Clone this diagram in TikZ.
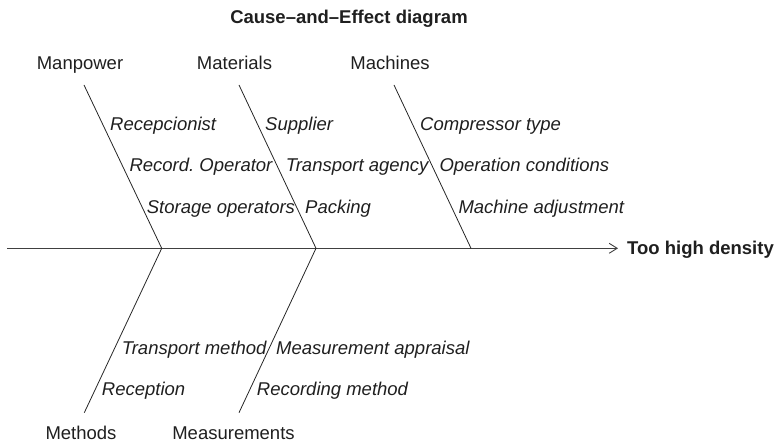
\documentclass[tikz,border=0pt]{standalone}
\usepackage{fontspec}
\setmainfont{Liberation Sans}
\usetikzlibrary{arrows.meta}
\begin{document}
\begin{tikzpicture}[x=1pt,y=-1pt,
  txt/.style={inner sep=0pt, anchor=base, font=\fontsize{18.5}{20}\selectfont, text=black!88},
  cat/.style={txt},
  cause/.style={txt, anchor=base west, font=\fontsize{18.5}{20}\selectfont\itshape},
  bold/.style={txt, font=\fontsize{18.5}{20}\selectfont\bfseries},
  bone/.style={line width=0.8pt, draw=black!85},
  spine/.style={line width=0.9pt, draw=black!75, -{Straight Barb[length=8pt,width=10pt,line width=0.9pt]}}]
\useasboundingbox (0,0) rectangle (777,443);
% title
\node[bold] (title) at (349,24) {Cause\textendash and\textendash Effect diagram};
% category labels
\node[cat] (manpower) at (80,70) {Manpower};
\node[cat] (materials) at (234.5,70) {Materials};
\node[cat] (machines) at (390,70) {Machines};
\node[cat] (methods) at (81,439.5) {Methods};
\node[cat] (measurements) at (233.5,439.5) {Measurements};
% effect
\node[bold, anchor=base west] (effect) at (627,255) {Too high density};
% bone coordinates
\coordinate (s0) at (7,248.3);
\coordinate (j1) at (161.7,248.3);
\coordinate (j2) at (316,248.3);
\coordinate (j3) at (471,248.3);
\coordinate (tip) at (618,248.3);
\coordinate (t1) at (84,85);
\coordinate (t2) at (239,85);
\coordinate (t3) at (394,85);
\coordinate (b1) at (84.3,412.7);
\coordinate (b2) at (239,412.7);
% spine and bones
\draw[spine] (s0) -- (tip);
\draw[bone] (t1) -- (j1);
\draw[bone] (t2) -- (j2);
\draw[bone] (t3) -- (j3);
\draw[bone] (j1) -- (b1);
\draw[bone] (j2) -- (b2);
% causes
\node[cause] (c11) at (110,131) {Recepcionist};
\node[cause] (c12) at (129.3,172) {Record.\ Operator};
\node[cause] (c13) at (146.7,213.3) {Storage operators};
\node[cause] (c21) at (265,131) {Supplier};
\node[cause] (c22) at (285.7,172) {Transport agency};
\node[cause] (c23) at (305,213.3) {Packing};
\node[cause] (c31) at (420,131) {Compressor type};
\node[cause] (c32) at (439.3,172) {Operation conditions};
\node[cause] (c33) at (458.3,213.3) {Machine adjustment};
\node[cause] (c41) at (121.7,354.5) {Transport method};
\node[cause] (c42) at (101.7,396) {Reception};
\node[cause] (c51) at (276,354.5) {Measurement appraisal};
\node[cause] (c52) at (256.7,396) {Recording method};
\end{tikzpicture}
\end{document}
